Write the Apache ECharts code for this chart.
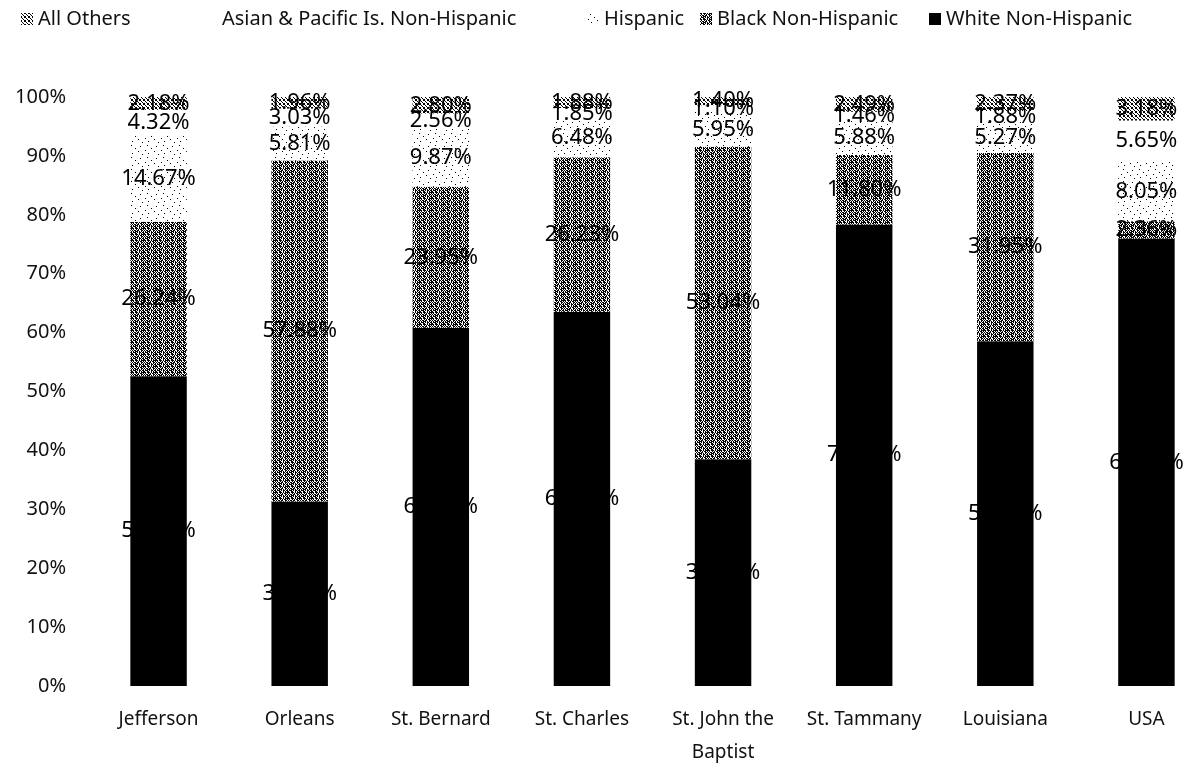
<!DOCTYPE html>
<html>
<head>
<meta charset="utf-8">
<script src="https://cdn.jsdelivr.net/npm/echarts@6/dist/echarts.min.js"></script>
<style>
  html, body { margin: 0; padding: 0; background: #fff; }
  #chart { width: 1188px; height: 766px; }
</style>
</head>
<body>
<div id="chart"></div>
<script>
// categories along the x axis
const categories = ['Jefferson', 'Orleans', 'St. Bernard', 'St. Charles', 'St. John the\nBaptist', 'St. Tammany', 'Louisiana', 'USA']

// values (percent)
const whiteNH = [52.59, 31.32, 60.82, 63.56, 38.51, 78.37, 58.53, 60.84]
const blackNH = [26.24, 57.88, 23.95, 26.23, 53.04, 11.80, 31.95, 2.36]
const hispanic = [14.67, 5.81, 9.87, 6.48, 5.95, 5.88, 5.27, 8.05]
const asianPI = [4.32, 3.03, 2.56, 1.85, 1.10, 1.46, 1.88, 5.65]
const allOthers = [2.18, 1.96, 2.80, 1.88, 1.40, 2.49, 2.37, 3.18]

const yTicks = [0, 10, 20, 30, 40, 50, 60, 70, 80, 90, 100]

// legend entries, in the order they sit across the top
const legendNames = ['All Others', 'Asian & Pacific Is. Non-Hispanic', 'Hispanic', 'Black Non-Hispanic', 'White Non-Hispanic']
const legendLeft = [16, 200, 582, 695, 924]

const FONT = 'Noto Sans'

// little bitmap tiles for the grey textures of the scanned chart
function makePattern(rows) {
  const c = document.createElement('canvas')
  c.width = rows[0].length
  c.height = rows.length
  const ctx = c.getContext('2d')
  ctx.fillStyle = '#fff'
  ctx.fillRect(0, 0, c.width, c.height)
  ctx.fillStyle = '#000'
  rows.forEach((r, y) => {
    for (let x = 0; x < r.length; x++) {
      if (r[x] === '#') ctx.fillRect(x, y, 1, 1)
    }
  })
  return { image: c, repeat: 'repeat' }
}

const blackFill = makePattern([
  '##.###.#.###',
  '.#..#.#.##.#',
  '#.##.##..##.',
  '.#.###.#.#.#',
  '.###.#.##.##',
  '#..##..#.#.#',
])
const hispFill = makePattern([
  '................',
  '...#............',
  '............#...',
  '................',
  '.......#........',
  '................',
  '.#..............',
  '..........#.....',
  '................',
  '....#...........',
  '..............#.',
  '................',
])
const othersFill = makePattern([
  '#..#',
  '.#..',
  '..#.',
  '#..#',
])

// Excel-style 100% stacking: every column normalised to its own total
const totals = categories.map((_, i) => whiteNH[i] + blackNH[i] + hispanic[i] + asianPI[i] + allOthers[i])
const share = arr => arr.map((v, i) => v / totals[i] * 100)

function barSeries(name, raw, color) {
  return {
    name,
    type: 'bar',
    stack: 'all',
    barWidth: '40%',
    data: share(raw),
    itemStyle: { color },
    label: {
      show: true,
      position: 'inside',
      color: '#000',
      fontFamily: FONT,
      fontSize: 22,
      formatter: p => raw[p.dataIndex].toFixed(2) + '%'
    }
  }
}

const chart = echarts.init(document.getElementById('chart'))
chart.setOption({
  backgroundColor: '#fff',
  animation: false,
  legend: legendNames.map((n, i) => ({
    top: 4,
    left: legendLeft[i],
    itemWidth: 12,
    itemHeight: 12,
    icon: 'rect',
    textStyle: { fontFamily: FONT, fontSize: 20, color: '#111' },
    data: [n]
  })),
  grid: { left: 88, right: -29, top: 97, bottom: 80, outerBoundsMode: 'none' },
  xAxis: {
    type: 'category',
    data: categories,
    axisLine: { show: false },
    axisTick: { show: false },
    axisLabel: { fontFamily: FONT, fontSize: 19, color: '#111', margin: 17, lineHeight: 33, interval: 0 }
  },
  yAxis: {
    type: 'value',
    min: yTicks[0],
    max: yTicks[yTicks.length - 1],
    interval: 10,
    splitLine: { show: false },
    axisLine: { show: false },
    axisTick: { show: false },
    axisLabel: { fontFamily: FONT, fontSize: 20, color: '#111', margin: 22, formatter: '{value}%' }
  },
  series: [
    barSeries('White Non-Hispanic', whiteNH, '#000'),
    barSeries('Black Non-Hispanic', blackNH, blackFill),
    barSeries('Hispanic', hispanic, hispFill),
    barSeries('Asian & Pacific Is. Non-Hispanic', asianPI, '#fff'),
    barSeries('All Others', allOthers, othersFill)
  ]
})
</script>
</body>
</html>
